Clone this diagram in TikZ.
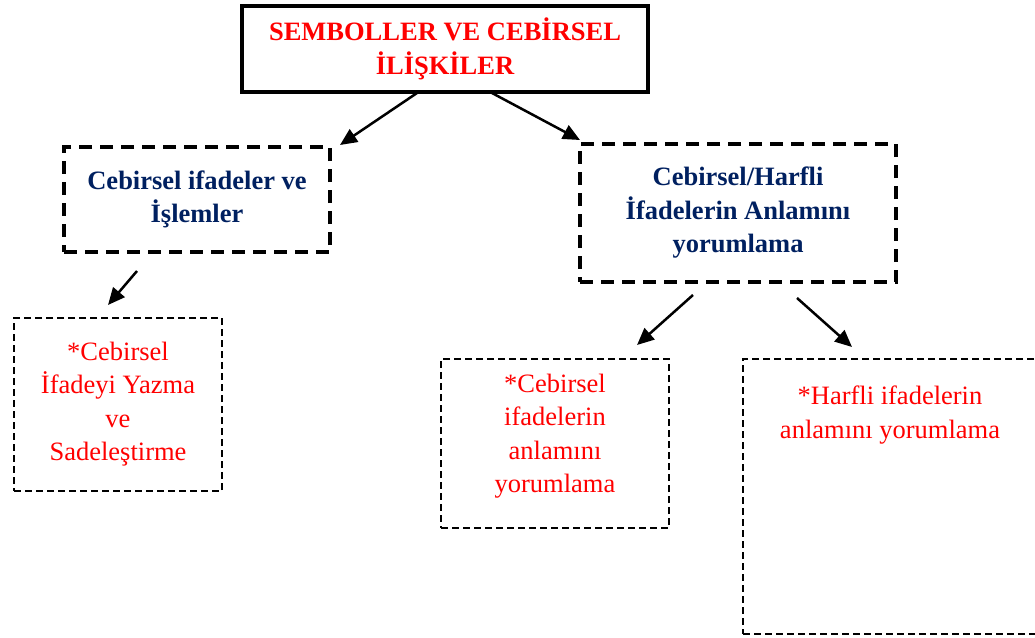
\documentclass[tikz,border=0pt]{standalone}
\usepackage{fontspec}
\setmainfont{Liberation Serif}
\usetikzlibrary{arrows.meta}
\definecolor{headred}{RGB}{255,0,0}
\definecolor{navy}{RGB}{0,32,96}
\newcommand{\boxfont}{\fontsize{26.5}{33.5}\selectfont}
\begin{document}
\begin{tikzpicture}[x=1pt,y=-1pt,
  titlebox/.style={draw, line width=4pt, inner sep=0pt, align=center,
    text=headred, font=\boxfont\bfseries},
  topicbox/.style={draw, line width=4pt, dash pattern=on 13pt off 8pt,
    inner sep=0pt, align=center, text=navy, font=\boxfont\bfseries},
  itembox/.style={draw, line width=2.5pt, dash pattern=on 7pt off 4pt, inner sep=0pt},
  itemtext/.style={inner sep=0pt, align=center, text=headred, font=\boxfont},
  link/.style={line width=2.5pt, -{Triangle[length=17pt,width=15pt]}}]
\useasboundingbox (0,0) rectangle (1035,637);

% main heading
\node[titlebox, minimum width=406pt, minimum height=86pt] (main) at (445,49)
  {SEMBOLLER VE CEB\.{I}RSEL\\ \.{I}L\.{I}\c{S}K\.{I}LER};

% second level topics
\node[topicbox, minimum width=266pt, minimum height=105pt] (expr) at (197,199.5)
  {Cebirsel ifadeler ve\\ \.{I}\c{s}lemler};
\node[topicbox, minimum width=316pt, minimum height=138pt] (mean) at (738,213)
  {Cebirsel/Harfli\\ \.{I}fadelerin Anlam\i n\i\\ yorumlama};

% outcome boxes
\node[itembox, minimum width=208pt, minimum height=173pt] (write) at (118,404.5) {};
\node[itemtext] (writetxt) at (118,404)
  {*Cebirsel\\ \.{I}fadeyi Yazma\\ ve\\ Sadele\c{s}tirme};

\node[itembox, minimum width=228pt, minimum height=169pt] (alg) at (555,443.5) {};
\node[itemtext] (algtxt) at (555,436)
  {*Cebirsel\\ ifadelerin\\ anlam\i n\i\\ yorumlama};

\node[itembox, minimum width=294pt, minimum height=275pt] (lit) at (890,496.5) {};
\node[itemtext] (littxt) at (890,415)
  {*Harfli ifadelerin\\ anlam\i n\i{} yorumlama};

% arrow end points
\coordinate (m1) at (417,93);
\coordinate (m2) at (492,93);
\coordinate (e1) at (340,145);
\coordinate (e2) at (580,140);
\coordinate (x1) at (137,271);
\coordinate (x2) at (108,305);
\coordinate (n1) at (693,295);
\coordinate (n2) at (637,345);
\coordinate (n3) at (797,298);
\coordinate (n4) at (852,347);

\draw[link] (m1) -- (e1);
\draw[link] (m2) -- (e2);
\draw[link] (x1) -- (x2);
\draw[link] (n1) -- (n2);
\draw[link] (n3) -- (n4);
\end{tikzpicture}
\end{document}
